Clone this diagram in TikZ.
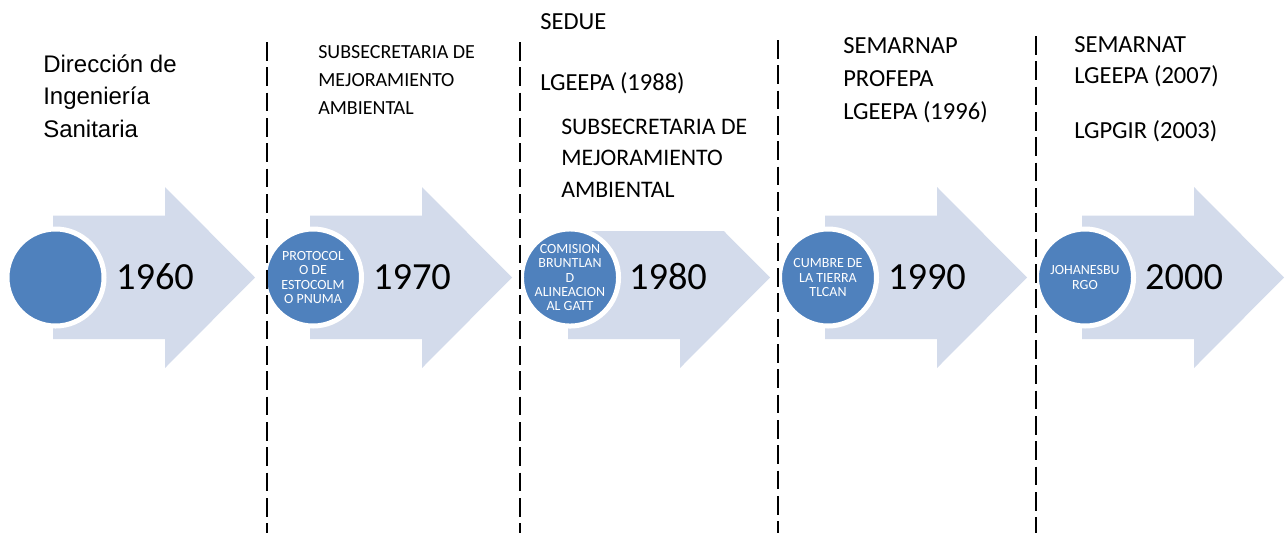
\documentclass[tikz,border=0pt]{standalone}
\usepackage{fontspec}
\setmainfont{Carlito}
\newfontfamily\arialf{Liberation Sans}
\definecolor{circblue}{RGB}{79,129,189}
\definecolor{arrowfill}{RGB}{211,219,235}
\begin{document}
\begin{tikzpicture}[x=0.75pt,y=-0.75pt,
  arrowshape/.style={fill=arrowfill},
  dot/.style={circle,fill=circblue,draw=white,line width=3.75pt,minimum size=72.75pt,inner sep=0pt,text=white,font=\fontsize{10.5}{10.8}\selectfont,align=center},
  year/.style={font=\fontsize{28.8}{30}\selectfont,inner sep=0pt},
  divider/.style={line width=1.4pt,dash pattern=on 14pt off 5pt},
  lbl/.style={anchor=west,align=left,inner sep=0pt}]
\useasboundingbox (0,0) rectangle (1287,533);
% arrows
\foreach \L in {53,310,568,825,1082}{
  \fill[arrowshape] (\L,215.5) -- (\L+112,215.5) -- (\L+112,187) -- (\L+202,277.5) -- (\L+112,368) -- (\L+112,339) -- (\L,339) -- cycle;
}
% white box hiding top of the 1980 arrow
\fill[white] (560,150) rectangle (772,231);
% circles
\node[dot] (c1) at (55.5,277.5) {};
\node[dot] (c2) at (313,277.5) {PROTOCOL\\O DE\\ESTOCOLM\\O PNUMA};
\node[dot] (c3) at (570,277.5) {COMISION\\BRUNTLAN\\D\\ALINEACION\\AL GATT};
\node[dot] (c4) at (828,277.5) {CUMBRE DE\\LA TIERRA\\TLCAN};
\node[dot] (c5) at (1085,277.5) {JOHANESBU\\RGO};
% years
\node[year] (y1) at (155,277) {1960};
\node[year] (y2) at (412,277) {1970};
\node[year] (y3) at (668,277) {1980};
\node[year] (y4) at (927,277) {1990};
\node[year] (y5) at (1184,277) {2000};
% top texts
\node[lbl,font=\arialf\fontsize{18}{24.4}\selectfont] (t1) at (43,96) {Dirección de\\Ingeniería\\Sanitaria};
\node[lbl,font=\fontsize{15}{21}\selectfont] (t2) at (318,80) {SUBSECRETARIA DE\\MEJORAMIENTO\\AMBIENTAL};
\node[lbl,font=\fontsize{18.4}{21}\selectfont] (t3a) at (540,22) {SEDUE};
\node[lbl,font=\fontsize{18.4}{21}\selectfont] (t3b) at (540,83) {LGEEPA (1988)};
\node[lbl,font=\fontsize{17.8}{23.6}\selectfont] (t3c) at (561,158) {SUBSECRETARIA DE\\MEJORAMIENTO\\AMBIENTAL};
\node[lbl,font=\fontsize{18.4}{24.75}\selectfont] (t4) at (843,80) {SEMARNAP\\PROFEPA\\LGEEPA (1996)};
\node[lbl,font=\fontsize{18.4}{23.25}\selectfont] (t5a) at (1074,62) {SEMARNAT\\LGEEPA (2007)};
\node[lbl,font=\fontsize{18.4}{21}\selectfont] (t5b) at (1074,131) {LGPGIR (2003)};
% dividers
\coordinate (d1t) at (267,42); \coordinate (d1b) at (267,533);
\coordinate (d2t) at (520,42); \coordinate (d2b) at (520,533);
\coordinate (d3t) at (778,40); \coordinate (d3b) at (778,533);
\coordinate (d4t) at (1036,36); \coordinate (d4b) at (1036,533);
\draw[divider] (d1t) -- (d1b);
\draw[divider] (d2t) -- (d2b);
\draw[divider] (d3t) -- (d3b);
\draw[divider] (d4t) -- (d4b);
\end{tikzpicture}
\end{document}
